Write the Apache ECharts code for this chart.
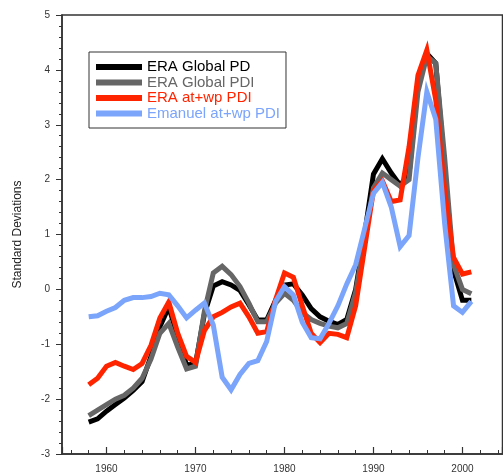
<!DOCTYPE html>
<html>
<head>
<meta charset="utf-8">
<script src="https://cdn.jsdelivr.net/npm/echarts@6/dist/echarts.min.js"></script>
<style>
  html, body { margin: 0; padding: 0; background: #fff; }
  #chart { width: 503px; height: 476px; }
</style>
</head>
<body>
<div id="chart"></div>
<script>
const years = [];
for (let y = 1958; y <= 2001; y++) years.push(y);

const seriesNames = ['ERA Global PD', 'ERA Global PDI', 'ERA at+wp PDI', 'Emanuel at+wp PDI'];
const seriesColors = ['#000000', '#666666', '#ff2400', '#7ba4fb'];

// 1958 .. 2001
const eraGlobalPD = [
  -2.42, -2.36, -2.22, -2.10, -1.98, -1.84, -1.68, -1.22, -0.68, -0.32,
  -0.86, -1.38, -1.36, -0.45, 0.06, 0.14, 0.08, -0.02, -0.28, -0.56,
  -0.56, -0.20, 0.08, 0.10, -0.10, -0.35, -0.50, -0.58, -0.64, -0.55,
  0.00, 1.00, 2.10, 2.38, 2.12, 1.90, 2.10, 3.75, 4.30, 4.12,
  2.20, 0.35, -0.20, -0.20
];
const eraGlobalPDI = [
  -2.30, -2.20, -2.10, -2.00, -1.93, -1.80, -1.62, -1.27, -0.80, -0.62,
  -1.05, -1.45, -1.40, -0.40, 0.30, 0.42, 0.27, 0.05, -0.25, -0.59,
  -0.59, -0.25, -0.07, -0.20, -0.42, -0.55, -0.62, -0.67, -0.70, -0.62,
  -0.05, 0.90, 1.85, 2.12, 2.00, 1.88, 2.00, 3.60, 4.25, 4.12,
  2.40, 0.45, 0.00, -0.08
];
const eraAtWpPDI = [
  -1.74, -1.62, -1.40, -1.33, -1.40, -1.46, -1.35, -1.02, -0.52, -0.23,
  -0.80, -1.22, -1.33, -0.75, -0.50, -0.42, -0.32, -0.25, -0.50, -0.80,
  -0.77, -0.19, 0.30, 0.22, -0.30, -0.80, -0.97, -0.80, -0.82, -0.88,
  -0.30, 0.75, 1.80, 1.98, 1.60, 1.63, 2.60, 3.90, 4.36, 3.45,
  1.80, 0.58, 0.28, 0.32
];
const emanuelAtWpPDI = [
  -0.50, -0.48, -0.40, -0.33, -0.20, -0.15, -0.15, -0.13, -0.07, -0.10,
  -0.30, -0.52, -0.38, -0.25, -0.65, -1.60, -1.83, -1.55, -1.35, -1.30,
  -0.95, -0.22, 0.05, -0.10, -0.60, -0.88, -0.90, -0.62, -0.30, 0.10,
  0.45, 1.10, 1.75, 1.95, 1.50, 0.78, 0.98, 2.40, 3.60, 3.10,
  1.20, -0.30, -0.42, -0.22
];
const allValues = [eraGlobalPD, eraGlobalPDI, eraAtWpPDI, emanuelAtWpPDI];

const chart = echarts.init(document.getElementById('chart'));

const labelFont = { fontFamily: 'Liberation Sans, Arial, sans-serif', fontSize: 10, color: '#333' };

chart.setOption({
  animation: false,
  // grid border gives the top and right edges of the frame
  grid: { show: true, left: 62, top: 15, width: 440.5, height: 439, borderColor: '#333', borderWidth: 1.5 },
  legend: {
    orient: 'vertical',
    left: 89, top: 52,
    padding: [7.25, 6, 6.75, 7],
    itemGap: 0,
    itemWidth: 46, itemHeight: 6,
    itemTextGap: 3,
    icon: 'rect',
    borderColor: '#333', borderWidth: 1,
    backgroundColor: '#fff',
    textStyle: { fontFamily: 'Liberation Sans, Arial, sans-serif', fontSize: 15, lineHeight: 15.5 },
    data: seriesNames.map((n, i) => ({ name: n, textStyle: { color: seriesColors[i] } }))
  },
  xAxis: {
    type: 'value', min: 1955, max: 2004.5,
    axisLine: { show: true, onZero: false, lineStyle: { color: '#333', width: 1.5 } },
    axisTick: { show: true, inside: true, length: 7, lineStyle: { color: '#333', width: 1.2 } },
    minorTick: { show: true, splitNumber: 5, length: 4 },
    splitLine: { show: false },
    axisLabel: {
      ...labelFont, margin: 10, showMinLabel: false, showMaxLabel: false,
      formatter: v => (v % 10 === 0 ? String(v) : '')
    }
  },
  yAxis: {
    type: 'value', min: -3, max: 5, interval: 1,
    name: 'Standard Deviations', nameLocation: 'middle', nameGap: 38,
    nameTextStyle: { fontFamily: 'Liberation Sans, Arial, sans-serif', fontSize: 12, color: '#222' },
    axisLine: { show: true, onZero: false, lineStyle: { color: '#333', width: 1.5 } },
    axisTick: { show: true, length: 6 },
    minorTick: { show: true, splitNumber: 5, length: 3 },
    splitLine: { show: false },
    axisLabel: { ...labelFont, margin: 12 }
  },
  series: allValues.map((vals, i) => ({
    name: seriesNames[i],
    type: 'line',
    symbol: 'none',
    z: 2 + i,
    lineStyle: { color: seriesColors[i], width: 5, join: 'miter' },
    itemStyle: { color: seriesColors[i] },
    data: years.map((y, k) => [y, vals[k]])
  }))
});
</script>
</body>
</html>
